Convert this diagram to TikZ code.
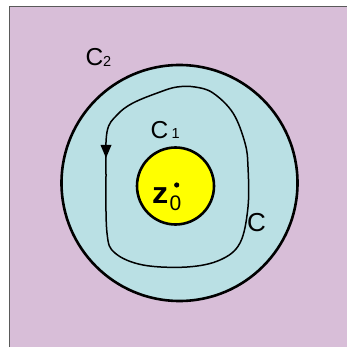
\documentclass[tikz,border=0pt]{standalone}
\usepackage{fontspec}
\usepackage{graphicx}
\setmainfont{Liberation Sans}
\usetikzlibrary{arrows.meta}
\definecolor{bgpurple}{RGB}{216,190,216}
\definecolor{ringblue}{RGB}{186,224,228}
\definecolor{discyellow}{RGB}{255,255,0}
\definecolor{framegray}{RGB}{90,90,90}
\tikzset{
  lbl/.style={font=\fontsize{24.5}{26}\selectfont, inner sep=0pt, anchor=base west},
  sub/.style={font=\fontsize{14.5}{16}\selectfont, inner sep=0pt, anchor=base west},
  circ/.style={draw=black, line width=2.6pt}
}
\begin{document}
\begin{tikzpicture}[x=1pt,y=-1pt]
\useasboundingbox (0,0) rectangle (347,358);
\fill[white] (0,0) rectangle (347,358);
\fill[bgpurple] (9,7) rectangle (347,347);
\draw[framegray, line width=1pt] (9,347) -- (9,7) -- (347,7);
\draw[circ, fill=ringblue] (179.5,183) circle (118);
\draw[circ, fill=discyellow] (175.5,186) circle (38.5);
\fill (176.7,185) circle (2.6);
\node[font=\bfseries\fontsize{30}{32}\selectfont, inner sep=0pt, anchor=base west] (z) at (152,203) {\scalebox{1.08}[1]{z}};
\node[font=\fontsize{21}{22}\selectfont, inner sep=0pt, anchor=base west] (zs) at (169.5,210.5) {0};
\node[lbl] (c1) at (150.5,138.5) {C};
\node[sub] (c1s) at (171.5,139) {1};
\node[lbl] (c2) at (85.5,66) {C};
\node[sub] (c2s) at (103,67) {2};
\node[lbl, font=\fontsize{26}{28}\selectfont] (c) at (247,231) {C};
\draw[line width=1.5pt, line join=round]
  plot[smooth cycle, tension=0.6] coordinates {
   (106,175) (107,233) (115,253) (143,265) (187,267) (220,260) (240,243)
   (248,207) (248,167) (245,143) (233,113) (213,93) (195,87) (177,87)
   (160,92) (133,103) (117,115) (107,132)};
\fill (100.5,145) -- (111.5,145) -- (106,158) -- cycle;
\end{tikzpicture}
\end{document}
